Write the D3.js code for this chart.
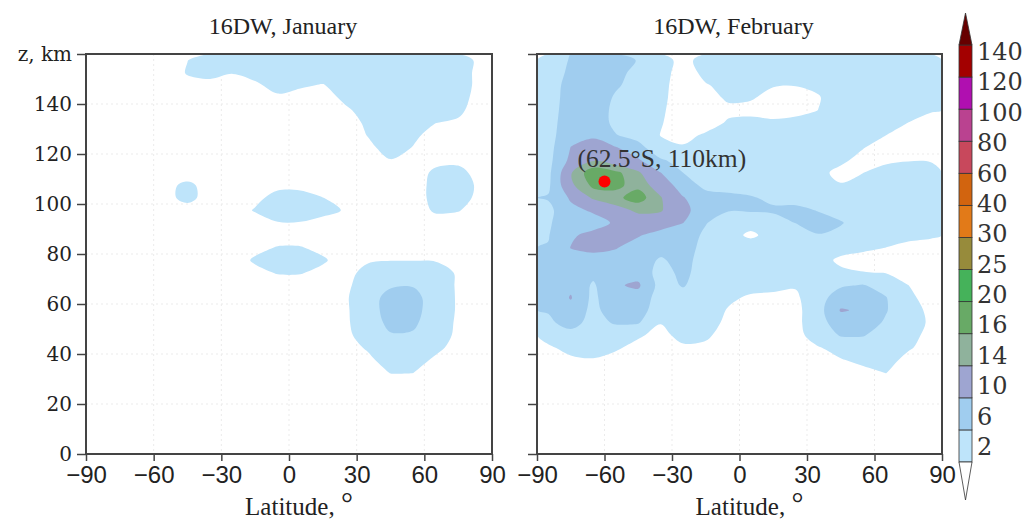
<!DOCTYPE html>
<html>
<head>
<meta charset="utf-8">
<script src="https://cdn.jsdelivr.net/npm/d3@7"></script>
<style>
  body { margin: 0; background: #fff; }
  svg { display: block; }
</style>
</head>
<body>
<svg id="chart" width="1035" height="521"></svg>
<script>
// grid node centres (cells are 10 deg x 5 km)
const latCenters = [-85, -75, -65, -55, -45, -35, -25, -15, -5, 5, 15, 25, 35, 45, 55, 65, 75, 85];
const altCenters = [157.5, 152.5, 147.5, 142.5, 137.5, 132.5, 127.5, 122.5, 117.5, 112.5, 107.5, 102.5,
  97.5, 92.5, 87.5, 82.5, 77.5, 72.5, 67.5, 62.5, 57.5, 52.5, 47.5, 42.5, 37.5, 32.5, 27.5, 22.5,
  17.5, 12.5, 7.5, 2.5];

// 16DW amplitude, January (rows from top altitude down)
const janRows = [
  [1,1,1,1.4,1.98,2.6,3,3,3,3,3,3,3,3,3,3,2.8,1.6],
  [1,1,1,1.2,2.1,2.3,2.05,2.2,2.3,2.4,2.5,3,3,3,3,3,2.8,1.5],
  [1,1,1,1,1.6,1.7,1.5,1.9,2.2,2.1,1.95,2.4,2.8,3.2,3.2,3.2,2.8,1.5],
  [1,1,1,1,1,1.1,1.1,1.3,1.9,1.7,1.6,2.2,2.8,3.3,3.3,3.1,2.6,1.4],
  [1,1,1,1,1,1,1,1,1.2,1.2,1.2,1.85,2.35,3.2,3.2,2.8,2.3,1.3],
  [1,1,1,1,1,1,1,1,1,1,1.1,1.4,2.25,3.0,2.8,2.02,1.8,1.2],
  [1,1,1,1,1,1,1,1,1,1,1,1.3,2.05,2.7,2.25,1.55,1.3,1.1],
  [1,1,1,1,1,1,1,1,1,1,1,1.1,1.7,2.5,1.95,1.3,1.2,1.1],
  [1,1,1,1,1,1,1,1,1,1,1,1,1.4,1.95,1.5,1.6,1.7,1.3],
  [1,1,1,1,1.1,1,1,1,1,1,1,1,1.1,1.5,1.3,2.3,2.4,1.5],
  [1,1,1,1.5,2.4,1.3,1,1,1.7,1.7,1.2,1,1,1.1,1.1,2.6,2.7,1.7],
  [1,1,1,1.5,2.5,1.3,1,1.7,2.4,2.4,2.02,1.5,1,1,1.1,2.6,2.6,1.6],
  [1,1,1,1.1,1.3,1.1,1.4,2.1,2.6,2.6,2.4,1.9,1.1,1,1.3,2.2,2.1,1.3],
  [1,1,1,1,1,1,1.1,1.5,1.95,1.95,1.6,1.2,1,1,1,1.4,1.3,1.1],
  [1,1,1,1,1,1,1,1.1,1.3,1.3,1.1,1,1,1,1,1,1,1],
  [1,1,1,1,1,1,1.1,1.6,2.1,2.1,1.6,1.1,1,1,1,1,1,1],
  [1,1,1,1,1,1,1.3,2.2,2.6,2.6,2.2,1.3,1.8,1.95,1.95,1.9,1.2,1],
  [1,1,1,1,1,1,1.1,1.6,2.1,2.1,1.6,1.4,2.6,3,3,2.8,1.8,1],
  [1,1,1,1,1,1,1,1.1,1.3,1.3,1.1,1.6,3.0,5.5,5.7,3.5,1.7,1],
  [1,1,1,1,1,1,1,1,1,1,1,1.6,4.2,7.5,7.5,3.8,1.7,1],
  [1,1,1,1,1,1,1,1,1,1,1,1.6,3.8,8,7.5,3.8,1.7,1],
  [1,1,1,1,1,1,1,1,1,1,1,1.6,3.5,7.2,6.8,3.5,1.6,1],
  [1,1,1,1,1,1,1,1,1,1,1,1.5,3.0,5.6,5.5,3.0,1.6,1],
  [1,1,1,1,1,1,1,1,1,1,1,1.3,2.2,3.5,3.5,2.4,1.4,1],
  [1,1,1,1,1,1,1,1,1,1,1,1.1,1.6,2.8,2.7,1.7,1.1,1],
  [1,1,1,1,1,1,1,1,1,1,1,1,1.2,2.05,2.02,1.2,1,1],
  [1,1,1,1,1,1,1,1,1,1,1,1,1,1.2,1.2,1,1,1],
  [1,1,1,1,1,1,1,1,1,1,1,1,1,1,1,1,1,1],
  [1,1,1,1,1,1,1,1,1,1,1,1,1,1,1,1,1,1],
  [1,1,1,1,1,1,1,1,1,1,1,1,1,1,1,1,1,1],
  [1,1,1,1,1,1,1,1,1,1,1,1,1,1,1,1,1,1],
  [1,1,1,1,1,1,1,1,1,1,1,1,1,1,1,1,1,1]
];

// 16DW amplitude, February
const febRows = [
  [3.8,6.3,8,7.5,5.8,3.5,0.8,3.5,3.5,3.5,3.5,3.5,3.5,3.5,3.5,3.5,3.2,2.8],
  [3.8,6.8,8.2,7,5,3.3,0.5,2.8,3.3,3.3,3.0,3.2,3.3,3.5,3.5,3.5,3.2,2.8],
  [4.0,7.5,8.5,6.5,4.5,3.0,0.3,1.8,2.8,2.8,2.2,2.1,2.5,3.5,3.5,3.5,3.2,2.8],
  [4.0,7.8,8.5,5.5,4,2.8,0.3,1.0,2.4,2.3,1.0,0.8,1.8,3.5,3.5,3.5,3.2,3.0],
  [4.2,8,8.3,5,3.8,2.5,0.3,0.5,1.4,1.0,0.8,1.2,2.02,3.5,3.5,3.3,3.0,2.2],
  [4.4,8.3,8.5,5,3.8,2.2,0.5,0.8,2.3,3.0,2.5,2.8,3.2,3.5,3.5,3.0,1.98,1.2],
  [4.5,8.8,9.5,6.2,4.5,1.9,1.2,2.4,3.2,3.5,3.5,3.5,3.5,3.5,3.5,2.02,0.8,0.8],
  [4.6,10.1,11.5,10.3,7.5,3.0,2.3,3.5,3.5,3.5,3.5,3.5,3.5,3.2,2.1,0.8,0.8,0.8],
  [4.8,11,13.8,12.5,10.5,6.5,4.5,3.5,3.5,3.5,3.5,3.5,3.5,2.6,1.0,1.5,1.9,1.8],
  [5.0,13.8,17.5,16.5,14.5,10.05,6.0,4,3.8,3.8,3.8,3.8,2.8,1.2,1.98,3,3,3],
  [5.3,13.5,16.5,16.3,15.5,12.5,8,5,4.5,4.5,4.2,4.0,2.2,2.2,3,3.5,3.3,3.0],
  [6.3,10.5,14.5,15.5,17,14.2,10.2,7.5,7,6.3,5.3,4.5,3.5,3.5,3.5,3.5,3.3,3.0],
  [5.0,9,10.5,13,14.5,14.3,11,8,6.2,6.5,6.5,7,5.8,4.5,3.8,3.5,3.3,3.0],
  [5.5,8.5,8.5,10.5,12.5,12,10.05,6.2,4,3.0,4.5,6.1,7.5,6.3,4,3.5,3.2,2.8],
  [5.8,9.5,11,11.5,10.3,8.5,8,5.3,3,1.5,3,4,5.8,5,3.5,3,2.6,2.3],
  [6.2,10.1,11.3,10.2,8.5,7.5,8,4.5,3.5,3.5,3.5,3.5,3.5,3,2.5,1.98,1.4,1.2],
  [6.5,8.5,8,8.5,8,5.5,7.5,4,3.5,3.5,3.5,3.3,3.0,1.5,1.0,0.8,0.8,0.7],
  [6.5,8.5,7,8.5,8.5,4.5,7,4,3.5,3.3,3.2,3.0,2.6,2.5,2.1,1.9,0.8,0.7],
  [6.5,9,5.5,9.6,10.6,4.5,6.3,3.8,3.3,2.9,2.6,2.3,3.0,5.5,6.2,4.5,2.02,0.8],
  [6.5,10.3,5,9.5,8.5,4.2,4.5,3.7,2.5,1.6,1.5,1.4,4.5,8,8,6.2,2.6,1.0],
  [6.2,8.5,5,8,7.5,4,4,3.5,1.8,1.0,1.0,1.0,4.5,10.3,9.5,6.3,3.0,1.5],
  [5.5,7,5,6.3,6.3,2.1,3.5,3.5,1.2,1.0,1.0,1.0,4.5,8,8,5.5,3.0,1.7],
  [3.0,5,3.5,4,2.3,1.3,2.8,2.4,1.0,1.0,1.0,1.0,3.5,6.3,6.2,4.5,2.6,1.5],
  [1.6,2.8,3.0,2.3,1.3,0.8,1.6,1.5,0.8,0.8,0.8,0.8,1.8,3.0,4,3.0,2.3,1.0],
  [1.0,1.5,1.8,1.2,0.8,0.8,0.8,0.8,0.8,0.8,0.8,0.8,1.0,1.8,2.6,3.0,1.2,0.8],
  [0.8,1.0,1.0,0.8,0.8,0.8,0.8,0.8,0.8,0.8,0.8,0.8,0.8,1.0,1.3,2.05,0.9,0.8],
  [0.8,0.8,0.8,0.8,0.8,0.8,0.8,0.8,0.8,0.8,0.8,0.8,0.8,0.8,0.8,0.9,0.8,0.8],
  [0.5,0.5,0.5,0.5,0.5,0.5,0.5,0.5,0.5,0.5,0.5,0.5,0.5,0.5,0.5,0.5,0.5,0.5],
  [0.5,0.5,0.5,0.5,0.5,0.5,0.5,0.5,0.5,0.5,0.5,0.5,0.5,0.5,0.5,0.5,0.5,0.5],
  [0.5,0.5,0.5,0.5,0.5,0.5,0.5,0.5,0.5,0.5,0.5,0.5,0.5,0.5,0.5,0.5,0.5,0.5],
  [0.5,0.5,0.5,0.5,0.5,0.5,0.5,0.5,0.5,0.5,0.5,0.5,0.5,0.5,0.5,0.5,0.5,0.5],
  [0.5,0.5,0.5,0.5,0.5,0.5,0.5,0.5,0.5,0.5,0.5,0.5,0.5,0.5,0.5,0.5,0.5,0.5]
];

const levels = [2, 6, 10, 14, 16, 20, 25, 30, 40, 60, 80, 100, 120, 140];
const levelColors = ["#ffffff", "#bee4fa", "#a0cdef", "#9ea5d1", "#8fb29c", "#68aa66", "#45b25a",
  "#978b3b", "#e27a18", "#d2640f", "#c8485c", "#ba4290", "#b00fb0", "#a30000", "#670000"];
const latTicks = [-90, -60, -30, 0, 30, 60, 90];
const altTicks = [0, 20, 40, 60, 80, 100, 120, 140, 160];
const peakPoint = [-60, 109];
const peakLabel = "(62.5°S, 110km)";

const svg = d3.select("#chart");
const plotTop = 54, plotBottom = 454;
const y = d3.scaleLinear().domain([0, 160]).range([plotBottom, plotTop]);
const color = d3.scaleThreshold().domain(levels).range(levelColors);
const smooth = d3.line().curve(d3.curveCatmullRomClosed.alpha(0.5));

const nLat = latCenters.length;
const nAlt = altCenters.length;
const altAsc = altCenters.slice().reverse();
const dLat = latCenters[1] - latCenters[0];
const dAlt = altAsc[1] - altAsc[0];

const panels = [
  { id: "jan", title: "16DW, January", rows: janRows, left: 86, right: 492, yLabels: true, peak: false },
  { id: "feb", title: "16DW, February", rows: febRows, left: 537, right: 942, yLabels: false, peak: true }
];

panels.forEach(p => {
  const x = d3.scaleLinear().domain([-90, 90]).range([p.left, p.right]);
  const px = c => x(latCenters[0] + (c - 0.5) * dLat);
  const py = r => y(altAsc[0] + (r - 0.5) * dAlt);

  const values = p.rows.slice().reverse().flat();
  const bands = d3.contours().size([nLat, nAlt]).thresholds(levels)(values);

  const g = svg.append("g");
  g.append("clipPath").attr("id", "clip-" + p.id)
    .append("rect")
    .attr("x", p.left).attr("y", plotTop)
    .attr("width", p.right - p.left).attr("height", plotBottom - plotTop);

  // faint dotted grid
  const grid = g.append("g").attr("stroke", "#ebebeb").attr("stroke-dasharray", "2,3");
  grid.selectAll("line.v").data(latTicks.slice(1, -1)).join("line")
    .attr("x1", d => x(d)).attr("x2", d => x(d)).attr("y1", plotTop).attr("y2", plotBottom);
  grid.selectAll("line.h").data(altTicks.slice(1, -1)).join("line")
    .attr("y1", d => y(d)).attr("y2", d => y(d)).attr("x1", p.left).attr("x2", p.right);

  g.append("g").attr("clip-path", `url(#clip-${p.id})`)
    .selectAll("path").data(bands).join("path")
    .attr("fill", d => color(d.value))
    .attr("fill-rule", "evenodd")
    .attr("d", d => d.coordinates.map(poly => poly.map(ring =>
      smooth(ring.slice(0, -1).map(pt => [px(pt[0]), py(pt[1])]))).join("")).join(""));

  if (p.peak) {
    const cx = x(peakPoint[0]), cy = y(peakPoint[1]);
    g.append("text")
      .attr("x", cx - 27).attr("y", cy - 15)
      .attr("font-family", "Liberation Serif").attr("font-size", 25.5).attr("fill", "#333")
      .text(peakLabel);
    g.append("circle").attr("cx", cx).attr("cy", cy).attr("r", 6).attr("fill", "#ff0000");
  }

  g.append("rect")
    .attr("x", p.left).attr("y", plotTop)
    .attr("width", p.right - p.left).attr("height", plotBottom - plotTop)
    .attr("fill", "none").attr("stroke", "#444").attr("stroke-width", 2);

  const xAxis = g.append("g")
    .attr("transform", `translate(0,${plotBottom})`)
    .call(d3.axisBottom(x).tickValues(latTicks).tickSize(7).tickPadding(5));
  xAxis.select(".domain").remove();
  xAxis.selectAll("line").attr("stroke", "#444").attr("stroke-width", 1.5);
  xAxis.selectAll("text").attr("font-family", "Liberation Sans").attr("font-size", 24).attr("fill", "#222");

  const yAxis = g.append("g")
    .attr("transform", `translate(${p.left},0)`)
    .call(d3.axisLeft(y).tickValues(altTicks).tickSize(9).tickPadding(5)
      .tickFormat(d => p.yLabels ? (d === 160 ? "z, km" : d) : ""));
  yAxis.select(".domain").remove();
  yAxis.selectAll("line").attr("stroke", "#444").attr("stroke-width", 1.5);
  yAxis.selectAll("text").attr("font-family", "DejaVu Serif").attr("font-size", 20).attr("fill", "#222");

  g.append("text")
    .attr("x", (p.left + p.right) / 2 - 6).attr("y", 34)
    .attr("text-anchor", "middle")
    .attr("font-family", "Liberation Serif").attr("font-size", 24).attr("fill", "#222")
    .text(p.title);

  const xl = g.append("text")
    .attr("x", (p.left + p.right) / 2 + 10).attr("y", 515)
    .attr("text-anchor", "middle")
    .attr("font-family", "Liberation Serif").attr("font-size", 25).attr("fill", "#222");
  xl.append("tspan").text("Latitude, ");
  xl.append("tspan").attr("font-size", 30).attr("dy", -2).text("°");
});

// colour bar
const barX = 959, barW = 13;
const boxY = d3.scaleLinear().domain([0, levels.length - 1]).range([462, 45]);
const labelY = d3.scalePoint().domain(levels.slice().reverse()).range([52, 447]);
const bar = svg.append("g");
const bandIdx = d3.range(levels.length - 1);
bar.selectAll("rect").data(bandIdx).join("rect")
  .attr("x", barX).attr("width", barW)
  .attr("y", i => boxY(i + 1)).attr("height", i => boxY(i) - boxY(i + 1))
  .attr("fill", i => levelColors[i + 1])
  .attr("stroke", "#333").attr("stroke-width", 0.8);
bar.append("path")
  .attr("d", `M${barX},${boxY(levels.length - 1)}L${barX + barW / 2},13L${barX + barW},${boxY(levels.length - 1)}Z`)
  .attr("fill", levelColors[levelColors.length - 1]).attr("stroke", "#333").attr("stroke-width", 0.8);
bar.append("path")
  .attr("d", `M${barX},${boxY(0)}L${barX + barW / 2},500L${barX + barW},${boxY(0)}Z`)
  .attr("fill", levelColors[0]).attr("stroke", "#333").attr("stroke-width", 0.8);
bar.selectAll("text").data(levels).join("text")
  .attr("x", 977).attr("y", d => labelY(d))
  .attr("dominant-baseline", "central")
  .attr("font-family", "DejaVu Serif").attr("font-size", 24).attr("fill", "#333")
  .text(d => d);
</script>
</body>
</html>
